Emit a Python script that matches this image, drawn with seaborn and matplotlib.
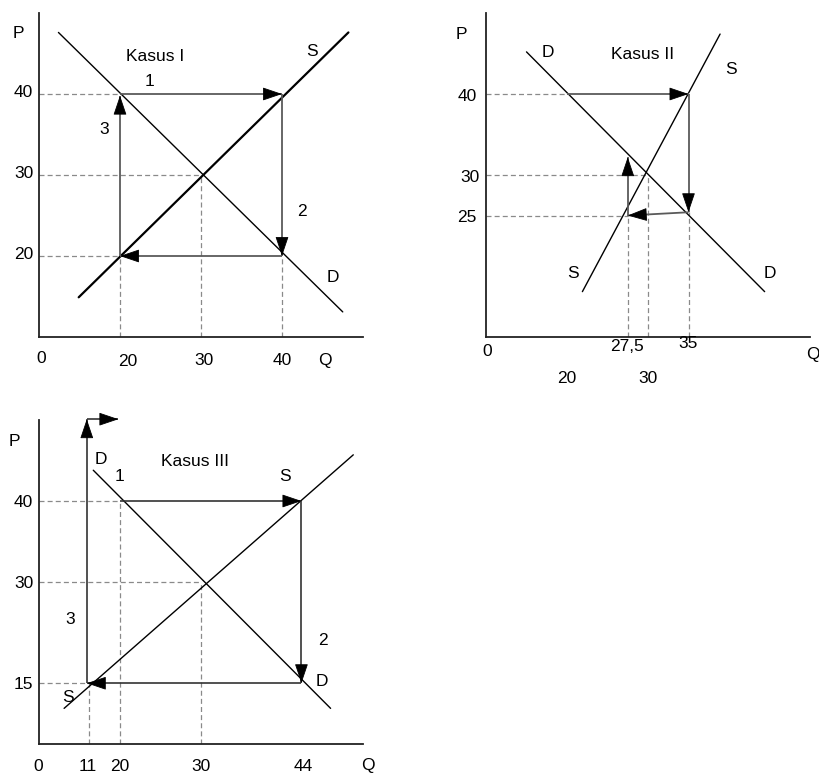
import numpy as np
import matplotlib
matplotlib.use("Agg")
import matplotlib.pyplot as plt
import seaborn as sns

sns.set_theme(style="white")
plt.rcParams['font.family'] = ['Liberation Sans', 'DejaVu Sans']

# ---------------- data (diagram units) ----------------
# Kasus I
k1_D_q = [12.4, 47.5]; k1_D_p = [47.6, 13.1]
k1_S_q = [14.9, 48.2]; k1_S_p = [14.9, 47.6]
k1_path_q = [20, 40, 40, 20, 20]
k1_path_p = [40, 40, 20, 20, 39.8]
k1_yticks = [40, 30, 20]; k1_ylabels = ["40", "30", "20"]
k1_xticks = [20, 30, 40]; k1_xlabels = ["20", "30", "40"]

# Kasus II
k2_D_q = [15.0, 44.4]; k2_D_p = [45.2, 15.6]
k2_S_q = [21.9, 38.9]; k2_S_p = [15.6, 47.4]
k2_path_q = [20, 35, 35, 27.5, 27.5]
k2_path_p = [40, 40, 25.4, 25, 32.2]
k2_yticks = [40, 30, 25]; k2_ylabels = ["40", "30", "25"]
k2_xticks_row1 = [27.5, 35]; k2_xlabels_row1 = ["27,5", "35"]
k2_xticks_row2 = [20, 30]; k2_xlabels_row2 = ["20", "30"]

# Kasus III (drawing not to scale: tick positions vs. labels)
k3_D_q = [16.7, 46.0]; k3_D_p = [43.8, 14.4]
k3_S_q = [13.1, 48.8]; k3_S_p = [14.4, 45.7]
k3_path_q = [20, 42.4, 42.4, 15.9, 15.9, 19.8]
k3_path_p = [40, 40, 17.5, 17.5, 50.1, 50.1]
k3_yticks = [40, 30, 17.5]; k3_ylabels = ["40", "30", "15"]
k3_xticks = [16.0, 20, 30, 42.6]; k3_xlabels = ["11", "20", "30", "44"]

W, H = 819, 774
SCALE = 8.1  # px per unit
fig = plt.figure(figsize=(W / 100, H / 100), dpi=100)

def make_ax(left_px, bottom_px):
    ax = fig.add_axes([left_px / W, (H - bottom_px) / H, 40 * SCALE / W, 40 * SCALE / H])
    ax.set_xlim(10, 50)
    ax.set_ylim(10, 50)
    ax.set_facecolor('none')
    for s in ['top', 'right']:
        ax.spines[s].set_visible(False)
    for s in ['left', 'bottom']:
        ax.spines[s].set_color('#222222')
        ax.spines[s].set_linewidth(1.3)
    ax.set_xticks([]); ax.set_yticks([])
    return ax

FS = 12.5
DASH = dict(color='#8a8a8a', lw=0.9, ls=(0, (4, 2.5)), zorder=1)

def dashed(ax, hlines, vlines):
    for p, q_end in hlines:
        ax.plot([10, q_end], [p, p], **DASH)
    for q, p_end in vlines:
        ax.plot([q, q], [10, p_end], **DASH)

def path_arrows(ax, qs, ps, color, lw=1.3):
    for i in range(len(qs) - 1):
        q0, p0, q1, p1 = qs[i], ps[i], qs[i + 1], ps[i + 1]
        ax.plot([q0, q1], [p0, p1], color=color, lw=lw, solid_capstyle='butt',
                zorder=3, clip_on=False)
        d = np.hypot(q1 - q0, p1 - p0)
        back = 2.2
        qs0 = q1 - (q1 - q0) / d * back
        ps0 = p1 - (p1 - p0) / d * back
        ax.annotate("", xy=(q1, p1), xytext=(qs0, ps0),
                    arrowprops=dict(arrowstyle="-|>,head_length=0.62,head_width=0.21",
                                    mutation_scale=20, color='black', lw=0.6,
                                    shrinkA=0, shrinkB=0),
                    zorder=4, annotation_clip=False)

def txt(ax, q, p, s, ha='center', va='center', fs=FS):
    ax.text(q, p, s, ha=ha, va=va, fontsize=fs, color='black', clip_on=False)

# ---------------- Kasus I ----------------
ax1 = make_ax(39, 337)
dashed(ax1, [(40, 20), (30, 30), (20, 20)], [(20, 20), (30, 30), (40, 20)])
sns.lineplot(x=k1_D_q, y=k1_D_p, ax=ax1, color='black', lw=1.0, sort=False)
sns.lineplot(x=k1_S_q, y=k1_S_p, ax=ax1, color='black', lw=1.6, sort=False)
path_arrows(ax1, k1_path_q, k1_path_p, '#5a5a5a')
for p, lab in zip(k1_yticks, k1_ylabels):
    txt(ax1, 9.3, p + 0.2, lab, ha='right')
for q, lab, dp in zip(k1_xticks, k1_xlabels, [7.0, 7.1, 7.1]):
    txt(ax1, q + (1.0 if lab == "20" else 0.4 if lab == "30" else 0), dp, lab)
txt(ax1, 10.3, 7.4, "0")
txt(ax1, 45.3, 7.1, "Q")
txt(ax1, 7.4, 47.5, "P")
txt(ax1, 24.3, 44.6, "Kasus I")
txt(ax1, 43.7, 45.3, "S")
txt(ax1, 23.7, 41.6, "1")
txt(ax1, 18.0, 35.6, "3")
txt(ax1, 42.4, 25.5, "2")
txt(ax1, 46.3, 17.4, "D")

# ---------------- Kasus II ----------------
ax2 = make_ax(486, 337)
dashed(ax2, [(40, 20), (30, 30), (25, 27.5)], [(27.5, 25), (30, 30), (35, 25.4)])
sns.lineplot(x=k2_D_q, y=k2_D_p, ax=ax2, color='black', lw=1.0, sort=False)
sns.lineplot(x=k2_S_q, y=k2_S_p, ax=ax2, color='black', lw=1.0, sort=False)
path_arrows(ax2, k2_path_q, k2_path_p, '#5a5a5a')
for p, lab, dx in zip(k2_yticks, k2_ylabels, [8.85, 9.17, 8.85]):
    txt(ax2, dx, p - 0.3, lab, ha='right')
for q, lab, dp in zip(k2_xticks_row1, k2_xlabels_row1, [8.8, 9.2]):
    txt(ax2, q - 0.1, dp, lab)
for q, lab in zip(k2_xticks_row2, k2_xlabels_row2):
    txt(ax2, q, 4.9, lab)
txt(ax2, 10.1, 8.2, "0")
txt(ax2, 50.4, 7.8, "Q")
txt(ax2, 7.0, 47.3, "P")
txt(ax2, 17.7, 45.1, "D")
txt(ax2, 29.3, 44.9, "Kasus II")
txt(ax2, 40.3, 43.0, "S")
txt(ax2, 20.8, 17.8, "S")
txt(ax2, 45.1, 17.8, "D")

# ---------------- Kasus III ----------------
ax3 = make_ax(39, 744)
dashed(ax3, [(40, 20), (30, 30), (17.5, 15.9)], [(20, 40), (30, 30), (16.2, 17.5)])
sns.lineplot(x=k3_D_q, y=k3_D_p, ax=ax3, color='black', lw=1.0, sort=False)
sns.lineplot(x=k3_S_q, y=k3_S_p, ax=ax3, color='black', lw=1.0, sort=False)
path_arrows(ax3, k3_path_q, k3_path_p, '#333333', lw=1.2)
for p, lab in zip(k3_yticks, k3_ylabels):
    txt(ax3, 9.3, p - 0.2, lab, ha='right')
for q, lab in zip(k3_xticks, k3_xlabels):
    txt(ax3, q, 7.2, lab)
txt(ax3, 9.9, 7.2, "0")
txt(ax3, 50.6, 7.4, "Q")
txt(ax3, 7.0, 47.3, "P")
txt(ax3, 17.7, 45.1, "D")
txt(ax3, 29.3, 44.9, "Kasus III")
txt(ax3, 19.9, 43.0, "1")
txt(ax3, 40.4, 43.0, "S")
txt(ax3, 13.9, 25.4, "3")
txt(ax3, 45.0, 22.8, "2")
txt(ax3, 44.9, 17.7, "D")
txt(ax3, 13.6, 15.7, "S")

fig.savefig("out.png", dpi=100)
